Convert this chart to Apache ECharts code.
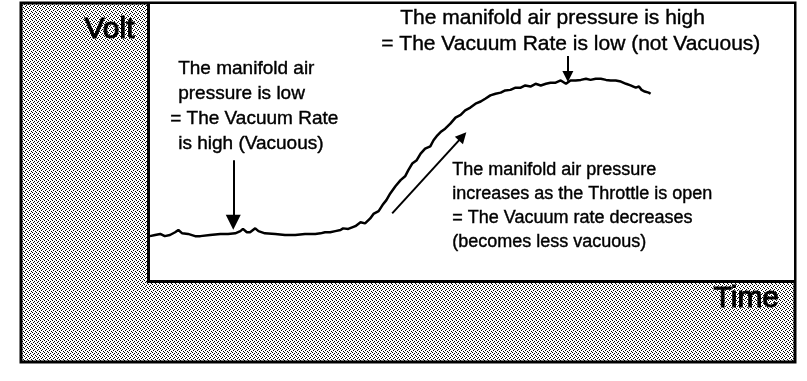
<!DOCTYPE html>
<html>
<head>
<meta charset="utf-8">
<script src="https://cdn.jsdelivr.net/npm/echarts@6/dist/echarts.min.js"></script>
<style>html,body{margin:0;padding:0;background:#fff;}#c{width:807px;height:381px;}</style>
</head>
<body>
<div id="c"></div>
<script>
// ---- data (time in s, signal in V) ----
var timeVals = [0.03,0.11,0.19,0.26,0.34,0.42,0.47,0.53,0.62,0.73,0.81,0.96,1.12,1.24,1.35,1.43,1.47,1.53,1.58,1.66,1.71,1.81,1.97,2.12,2.28,2.43,2.59,2.67,2.74,2.82,2.90,2.98,3.02,3.10,3.13,3.21,3.29,3.36,3.44,3.49,3.57,3.63,3.69,3.75,3.83,3.91,3.98,4.03,4.09,4.16,4.22,4.29,4.37,4.42,4.48,4.54,4.60,4.68,4.76,4.84,4.91,4.99,5.07,5.15,5.22,5.30,5.38,5.46,5.53,5.61,5.69,5.77,5.84,5.92,6.00,6.08,6.16,6.23,6.31,6.39,6.47,6.54,6.62,6.70,6.78,6.85,6.93,7.01,7.09,7.16,7.24,7.32,7.40,7.47,7.55,7.60,7.64,7.69,7.75,7.78];
var voltVals = [0.81,0.83,0.85,0.81,0.83,0.88,0.92,0.86,0.85,0.81,0.81,0.83,0.85,0.85,0.86,0.90,0.94,0.88,0.88,0.95,0.90,0.86,0.85,0.83,0.83,0.85,0.85,0.86,0.88,0.88,0.90,0.92,0.95,0.94,0.97,0.99,1.06,1.04,1.13,1.21,1.26,1.37,1.46,1.58,1.71,1.82,1.89,2.00,2.12,2.18,2.30,2.39,2.43,2.54,2.63,2.70,2.75,2.84,2.95,3.00,3.08,3.13,3.20,3.24,3.29,3.35,3.38,3.40,3.44,3.45,3.49,3.49,3.53,3.51,3.56,3.53,3.56,3.58,3.58,3.62,3.56,3.62,3.62,3.63,3.65,3.63,3.65,3.65,3.63,3.62,3.62,3.60,3.56,3.53,3.49,3.51,3.45,3.42,3.40,3.38];
var xTitle = "Time";
var yTitle = "Volt";
var noteHigh = ["The manifold air pressure is high", "= The Vacuum Rate is low (not Vacuous)"];
var noteLow = ["The manifold air", "pressure is low", "= The Vacuum Rate", "is high (Vacuous)"];
var noteRise = ["The manifold air pressure", "increases as the Throttle is open", "= The Vacuum rate decreases", "(becomes less vacuous)"];
// arrows: [fromTime, fromVolt, toTime, toVolt]
var arrowLow = [1.32, 2.18, 1.32, 1.06];
var arrowHigh = [6.50, 4.06, 6.50, 3.69];
var arrowRise = [3.78, 1.22, 4.87, 2.61];

// halftone pattern
var pc = document.createElement('canvas');
pc.width = 4; pc.height = 4;
var px = pc.getContext('2d');
px.fillStyle = '#ffffff'; px.fillRect(0,0,4,4);
px.fillStyle = '#000000';
[[0,0],[2,1],[1,2],[3,3]].forEach(function(p){ px.fillRect(p[0],p[1],1,1); });

var FONT = '"Liberation Sans", Arial, sans-serif';
var series = timeVals.map(function(t,i){ return [t, voltVals[i]]; });

function textEl(lines, x, y, lh, fs){
  return lines.map(function(s, i){
    return {type:'text', left:x, top:y + i*lh, z:10,
      style:{text:s, fill:'#000', stroke:'#000', lineWidth:0.4, font:'normal ' + fs + 'px ' + FONT}};
  });
}
function arrowSeries(a, size){
  return {type:'line', data:[], silent:true, z:5,
    markLine:{silent:true, animation:false, symbolSize:size,
      lineStyle:{color:'#000', width:2, type:'solid'}, label:{show:false},
      data:[[{coord:[a[0],a[1]], symbol:'none'},{coord:[a[2],a[3]], symbol:'triangle'}]]}};
}

var graphics = [
  {type:'rect', shape:{x:21, y:3, width:774, height:359}, z:-10,
   style:{fill:{image:pc, repeat:'repeat'}, stroke:'#000', lineWidth:3}},
  {type:'text', left:84, top:14, z:10, style:{text:yTitle, fill:'#000', stroke:'#000', lineWidth:1, font:'normal 30px ' + FONT}},
  {type:'text', left:713, top:283, z:10, style:{text:xTitle, fill:'#000', stroke:'#000', lineWidth:1, font:'normal 30px ' + FONT}}
].concat(textEl(noteHigh, 400, 8, 26, 21))
 .concat(textEl(noteLow, 178, 59, 25, 19))
 .concat(textEl(noteRise, 452, 161, 24, 18));
// individual left offsets for lines starting with "="
graphics[4].left = 381;
graphics[7].left = 170;

var chart = echarts.init(document.getElementById('c'), null, {renderer:'canvas'});
chart.setOption({
  animation:false,
  backgroundColor:'#fff',
  grid:{left:148, right:13, top:4, bottom:100, show:true, backgroundColor:'#fff', borderWidth:0},
  xAxis:{type:'value', min:0, max:10, axisLine:{show:true, onZero:false, lineStyle:{color:'#000', width:3}},
    axisTick:{show:false}, axisLabel:{show:false}, splitLine:{show:false}},
  yAxis:{type:'value', min:0, max:5, axisLine:{show:true, onZero:false, lineStyle:{color:'#000', width:3}},
    axisTick:{show:false}, axisLabel:{show:false}, splitLine:{show:false}},
  graphic:graphics,
  series:[
    {type:'line', data:series, showSymbol:false, smooth:false, z:4,
     lineStyle:{color:'#000', width:2.5}},
    arrowSeries(arrowLow, 15),
    arrowSeries(arrowHigh, 11),
    arrowSeries(arrowRise, 11)
  ]
});
</script>
</body>
</html>
